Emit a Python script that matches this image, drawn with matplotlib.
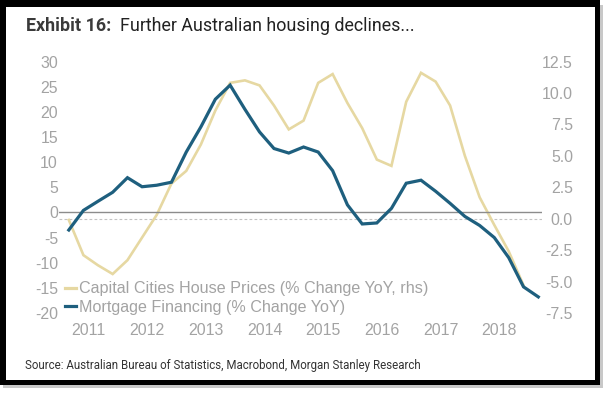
import matplotlib
matplotlib.use('Agg')
import matplotlib.pyplot as plt
import matplotlib.dates as mdates
import pandas as pd
from matplotlib.patches import Rectangle
from matplotlib.lines import Line2D

# ---------------- data ----------------
dates = pd.date_range('2010-09-01', periods=33, freq='3MS')
mortgage = [-3.5, 0.4, 2.2, 4.0, 6.9, 5.1, 5.4, 6.0, 12.0, 17.0, 22.5, 25.3,
            20.5, 16.0, 12.7, 11.8, 13.0, 12.0, 8.3, 1.5, -2.3, -2.1, 0.8, 5.8,
            6.4, 4.2, 1.8, -0.8, -2.6, -5.0, -9.0, -14.8, -16.8]
house_prices = [-0.1, -2.9, -3.7, -4.4, -3.3, -1.5, 0.3, 2.8, 3.8, 5.9, 8.6, 10.8,
                11.0, 10.6, 9.0, 7.1, 7.8, 10.8, 11.5, 9.2, 7.2, 4.7, 4.2, 9.3,
                11.6, 10.9, 9.0, 5.0, 1.7, -0.5, -2.6, -5.3]
year_labels = [2011, 2012, 2013, 2014, 2015, 2016, 2017, 2018]
left_ticks = [30, 25, 20, 15, 10, 5, 0, -5, -10, -15, -20]
right_ticks = [12.5, 10.0, 7.5, 5.0, 2.5, 0.0, -2.5, -5.0, -7.5]
series_labels = ['Capital Cities House Prices (% Change YoY, rhs)',
                 'Mortgage Financing (% Change YoY)']
title_bold = 'Exhibit 16:'
title_rest = 'Further Australian housing declines...'
source = 'Source: Australian Bureau of Statistics, Macrobond, Morgan Stanley Research'

BLUE = '#1e5f7e'
YELLOW = '#e6d8a2'
GREY_TXT = '#a3a3a3'

W, H = 608, 395
fig = plt.figure(figsize=(W / 100, H / 100), dpi=100)
fig.patch.set_facecolor('white')

def fx(px):
    return px / W

def fy(py):  # py measured from top
    return 1 - py / H

# frame with shadow
fig.patches.append(Rectangle((fx(3), fy(388)), fx(600), 383 / H, transform=fig.transFigure,
                             facecolor='#c8c8c8', edgecolor='none', zorder=-3))
fig.patches.append(Rectangle((0, fy(385)), fx(600), 385 / H, transform=fig.transFigure,
                             facecolor='black', edgecolor='none', zorder=-2))
fig.patches.append(Rectangle((fx(6), fy(380)), fx(589), 373 / H, transform=fig.transFigure,
                             facecolor='white', edgecolor='none', zorder=-1))

ax_l, ax_r, ax_t, ax_b = 59, 542, 61.5, 313
ax = fig.add_axes([fx(ax_l), fy(ax_b), (ax_r - ax_l) / W, (ax_b - ax_t) / H])
ax2 = ax.twinx()
ax.set_zorder(ax2.get_zorder() + 1)
ax.patch.set_visible(False)
ax2.patch.set_visible(False)

ax2.plot(dates[:len(house_prices)], house_prices, color=YELLOW, lw=1.9,
         solid_joinstyle='miter', zorder=3)
ax.plot(dates, mortgage, color=BLUE, lw=2.3, solid_joinstyle='miter', zorder=3)

ax.set_ylim(-20, 30)
ax2.set_ylim(-7.5, 12.5)
x0 = mdates.date2num(pd.Timestamp('2010-07-02'))
x1 = mdates.date2num(pd.Timestamp('2018-09-24'))
ax.set_xlim(x0, x1)

ax.axhline(0, color='#8c8c8c', lw=1.0, zorder=1)
ax2.axhline(0, color='#c4c4c4', lw=0.8, ls=(0, (2.5, 2)), zorder=1)

for a in (ax, ax2):
    for s in a.spines.values():
        s.set_visible(False)

ax.set_yticks(left_ticks)
ax.set_yticklabels([str(v) for v in left_ticks])
ax2.set_yticks(right_ticks)
ax2.set_yticklabels([f'{v:.1f}' for v in right_ticks])
ax.set_xticks([mdates.date2num(pd.Timestamp(f'{y}-01-01')) for y in year_labels])
ax.set_xticklabels([str(y) for y in year_labels])

tfont = dict(family=['Liberation Sans', 'DejaVu Sans'], size=11.4)
ax.tick_params(axis='y', length=0, pad=0.8, labelcolor=GREY_TXT)
ax.tick_params(axis='x', length=0, pad=7.5, labelcolor=GREY_TXT)
ax2.tick_params(axis='y', length=0, pad=22.3, labelcolor=GREY_TXT)
for lab in ax.get_yticklabels() + ax.get_xticklabels():
    lab.set_fontfamily(tfont['family'])
    lab.set_fontsize(tfont['size'])
for lab in ax2.get_yticklabels():
    lab.set_fontfamily(tfont['family'])
    lab.set_fontsize(tfont['size'])
    lab.set_horizontalalignment('right')

handles = [Line2D([], [], color=YELLOW, lw=2.3), Line2D([], [], color=BLUE, lw=2.3)]
leg = ax.legend(handles, series_labels, loc='lower left',
                bbox_to_anchor=(fx(65), fy(315)), bbox_transform=fig.transFigure,
                frameon=False, borderpad=0, borderaxespad=0, handlelength=0.7,
                handletextpad=0.15, labelspacing=0.22,
                prop=dict(family=tfont['family'], size=11.6))
for t in leg.get_texts():
    t.set_color(GREY_TXT)

fig.text(fx(26), fy(31), title_bold, fontsize=12.9, fontweight='bold',
         family=['Roboto', 'DejaVu Sans'], color='#3a3a3a', va='baseline', ha='left')
fig.text(fx(120.5), fy(31), title_rest, fontsize=12.9,
         family=['Roboto', 'DejaVu Sans'], color='#222222', va='baseline', ha='left')
fig.text(fx(25), fy(366), source, fontsize=8.3,
         family=['Liberation Sans Narrow', 'Roboto', 'DejaVu Sans'], color='#333333',
         va='center', ha='left')

fig.savefig('out.png', dpi=100, facecolor='white')
